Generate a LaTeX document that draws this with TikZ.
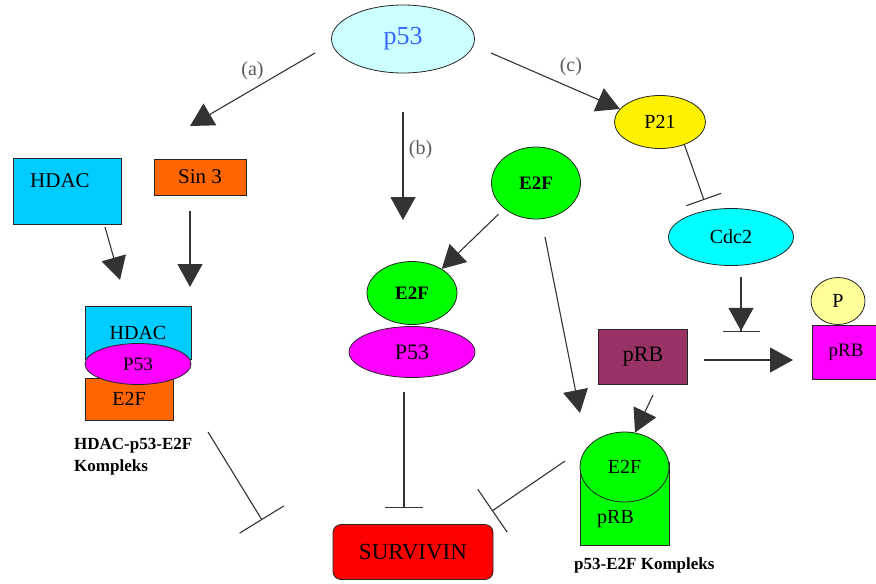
\documentclass[tikz,border=0pt]{standalone}
\usepackage{fontspec}
\setmainfont{Liberation Serif}
\usetikzlibrary{arrows.meta, shapes.geometric}

\definecolor{p53fill}{HTML}{CCFFFF}
\definecolor{p53text}{HTML}{3366FF}
\definecolor{hdacblue}{HTML}{00CCFF}
\definecolor{sinorange}{HTML}{FF6600}
\definecolor{cdccyan}{HTML}{00FFFF}
\definecolor{prbred}{HTML}{993366}
\definecolor{pyellow}{HTML}{FFFF99}
\definecolor{protgreen}{HTML}{00FF00}
\definecolor{protpink}{HTML}{FF00FF}
\definecolor{linegray}{HTML}{333333}

\tikzset{
  mol/.style={ellipse, draw=black!85, line width=0.8pt, inner sep=0pt, font=\fontsize{20}{24}\selectfont},
  box/.style={rectangle, draw=black!85, line width=0.8pt, inner sep=0pt, font=\fontsize{20}{24}\selectfont},
  act/.style={draw=linegray, line width=1.1pt, -{Triangle[length=23pt, width=25pt]}},
  inh/.style={draw=linegray, line width=1.1pt, -{Bar[width=#1]}},
  inh/.default=38pt,
  tag/.style={font=\fontsize{20}{24}\selectfont, text=black!65},
  cplx/.style={font=\bfseries\fontsize{17}{22}\selectfont, align=left, inner sep=1pt},
}

\begin{document}
\begin{tikzpicture}[x=1pt, y=-1pt]
\useasboundingbox (0,0) rectangle (876,584);

% Define nodes
\path
(403,39) node[mol, fill=p53fill, text=p53text, minimum width=143pt, minimum height=68pt, font=\fontsize{26}{30}\selectfont] (p53) {p53}
(660,122) node[mol, fill=yellow, minimum width=91pt, minimum height=53pt] (P21) {P21}
(731,237) node[mol, fill=cdccyan, minimum width=125pt, minimum height=57pt] (Cdc2) {Cdc2}
(67,191) node[box, fill=hdacblue, minimum width=108pt, minimum height=66pt, label={[font=\fontsize{21}{24}\selectfont, xshift=-7pt, yshift=10pt]center:HDAC}] (hdac) {}
(200,177) node[box, fill=sinorange, minimum width=92pt, minimum height=36pt, font=\fontsize{21}{24}\selectfont] (sin3) {Sin 3}
% HDAC-p53-E2F complex
(138,333) node[box, fill=hdacblue, minimum width=106pt, minimum height=53pt] (hdacK) {HDAC}
(129,399) node[box, fill=sinorange, minimum width=88pt, minimum height=42pt] (e2fK) {E2F}
(138,364) node[mol, fill=protpink, minimum width=106pt, minimum height=41pt, font=\fontsize{19}{22}\selectfont] (p53K) {P53}
(73,437) node[cplx, anchor=north west] (hdacKL) {HDAC-p53-E2F\\Kompleks}
% E2F and E2F-P53 complex
(536,183) node[mol, fill=protgreen, minimum width=89pt, minimum height=72pt, font=\bfseries\fontsize{19}{22}\selectfont] (e2f) {E2F}
(412,352) node[mol, fill=protpink, minimum width=126pt, minimum height=51pt, font=\fontsize{22}{24}\selectfont] (p53B) {P53}
(412,293) node[mol, fill=protgreen, minimum width=90pt, minimum height=63pt, font=\bfseries\fontsize{19}{22}\selectfont] (e2fB) {E2F}
(413,552) node[box, rounded corners=8pt, fill=red, minimum width=160pt, minimum height=55pt, font=\fontsize{23}{26}\selectfont] (surv) {SURVIVIN}
% pRB
(643,357) node[box, fill=prbred, minimum width=89pt, minimum height=55pt, font=\fontsize{22}{24}\selectfont] (prb) {pRB}
(846,352) node[box, fill=protpink, minimum width=68pt, minimum height=54pt, font=\fontsize{19}{22}\selectfont] (prbP) {pRB}
(838,301) node[mol, fill=pyellow, minimum width=54pt, minimum height=47pt] (P) {P}
% E2F-pRB complex
(624.5,503.5) node[box, fill=protgreen, minimum width=89pt, minimum height=83pt, label={[font=\fontsize{20}{24}\selectfont, xshift=-9pt, yshift=-16pt]center:pRB}] (prbC) {}
(624.5,467) node[mol, fill=protgreen, minimum width=89pt, minimum height=70pt] (e2fC) {E2F}
(573,565) node[cplx, anchor=west] (prbCL) {p53-E2F Kompleks}
;

% Free ends
\path
(315,53) coordinate (aStart) (190,126) coordinate (aTip)
(403,112) coordinate (bStart) (403,220) coordinate (bTip)
(491,53) coordinate (cStart)
(704,200) coordinate (cdcBar)
(741,277) coordinate (cdcStart) (741,332) coordinate (cdcTip)
(704,360) coordinate (phosStart) (793,360) coordinate (phosTip)
(105,227) coordinate (hdacStart) (120,280) coordinate (hdacTip)
(190,211) coordinate (sinStart) (190,287) coordinate (sinTip)
(208,432) coordinate (kStart) (262,520) coordinate (kBar)
(545,237) coordinate (e2fStart) (580,413) coordinate (e2fTip)
(653,395) coordinate (prbStart)
(404,392) coordinate (p53BStart) (404,508) coordinate (p53BBar)
(565,461) coordinate (cStartK) (492,511) coordinate (cBarK)
;

% Activation
\draw[act] (aStart) -- node[tag, pos=0.5, above=6pt] (aLab) {(a)} (aTip);
\draw[act] (bStart) -- node[tag, pos=0.35, right=2pt] (bLab) {(b)} (bTip);
\draw[act] (cStart) -- node[tag, pos=0.62, above=8pt] (cLab) {(c)} (P21.162);
\draw[act] (hdacStart) -- (hdacTip);
\draw[act] (sinStart) -- (sinTip);
\draw[act, shorten <=8pt] (e2f.219) -- (e2fB.39);
\draw[act] (e2fStart) -- (e2fTip);
\draw[act] (prbStart) -- (e2fC.73);
\draw[act] (phosStart) -- (phosTip);
\draw[draw=linegray, line width=1.1pt, -{Triangle[length=23pt, width=25pt] Bar[width=37pt]}] (cdcStart) -- (cdcTip);

% Inhibition
\draw[inh=37pt] (P21.-43) -- (cdcBar);
\draw[inh=52pt] (kStart) -- (kBar);
\draw[inh] (p53BStart) -- (p53BBar);
\draw[inh=52pt] (cStartK) -- (cBarK);

\end{tikzpicture}
\end{document}
